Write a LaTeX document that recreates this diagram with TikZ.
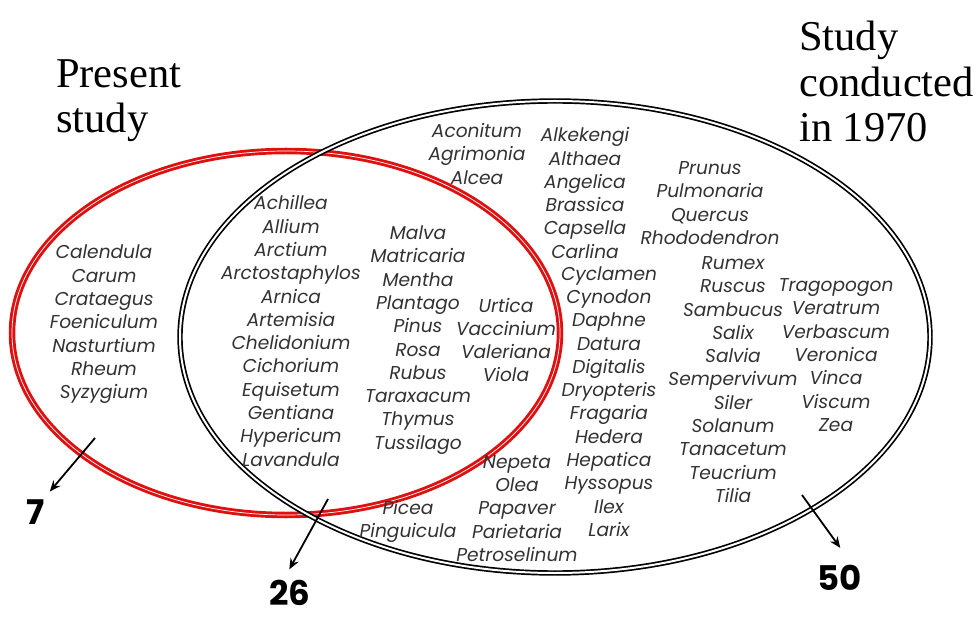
\documentclass[tikz,border=0pt]{standalone}
\usepackage{fontspec}
\setmainfont{Liberation Serif}
\newfontfamily\plantfont{Poppins}
\usetikzlibrary{arrows.meta}
\definecolor{vred}{RGB}{222,16,16}
\definecolor{txt}{RGB}{50,50,50}
\begin{document}
\begin{tikzpicture}[x=1pt,y=-1pt,
  plant/.style={font=\plantfont\itshape\fontsize{18.6}{23.3}\selectfont, text=txt, align=center, inner sep=0pt},
  titletext/.style={font=\fontsize{42.5}{45.5}\selectfont, align=left, anchor=north west, inner sep=0pt},
  num/.style={font=\plantfont\bfseries\fontsize{34}{34}\selectfont, inner sep=1pt},
  arr/.style={-{Stealth[length=11pt,width=9pt]}, line width=1.8pt},
  redring/.style={draw=vred, line width=2.9pt, double=white, double distance=0.7pt},
  blackring/.style={draw=black, line width=1.7pt, double=white, double distance=2pt}]
\useasboundingbox (0,0) rectangle (979,617);
% circles
\draw[redring] (286,333) ellipse [x radius=274pt, y radius=182pt];
\draw[blackring] (555,337) ellipse [x radius=375pt, y radius=236pt];
% titles
\node[titletext] (present) at (56,59) {Present\\study};
\node[titletext] (old) at (799,21) {Study\\conducted\\in 1970};
% plant lists
\node[plant] (blkA) at (104,324.5) {Calendula\\Carum\\Crataegus\\Foeniculum\\Nasturtium\\Rheum\\Syzygium};
\node[plant] (blkB) at (291,331) {Achillea\\Allium\\Arctium\\Arctostaphylos\\Arnica\\Artemisia\\Chelidonium\\Cichorium\\Equisetum\\Gentiana\\Hypericum\\Lavandula};
\node[plant] (blkC) at (418,340) {Malva\\Matricaria\\Mentha\\Plantago\\Pinus\\Rosa\\Rubus\\Taraxacum\\Thymus\\Tussilago};
\node[plant] (blkD) at (506,340) {Urtica\\Vaccinium\\Valeriana\\Viola};
\node[plant] (blkE) at (477,154) {Aconitum\\Agrimonia\\Alcea};
\node[plant] (blkF) at (585,193) {Alkekengi\\Althaea\\Angelica\\Brassica\\Capsella\\Carlina};
\node[plant] (blkG) at (609,401.5) {Cyclamen\\Cynodon\\Daphne\\Datura\\Digitalis\\Dryopteris\\Fragaria\\Hedera\\Hepatica\\Hyssopus\\Ilex\\Larix};
\node[plant] (blkH) at (710,203) {Prunus\\Pulmonaria\\Quercus\\Rhododendron};
\node[plant] (blkI) at (733,379.5) {Rumex\\Ruscus\\Sambucus\\Salix\\Salvia\\Sempervivum\\Siler\\Solanum\\Tanacetum\\Teucrium\\Tilia};
\node[plant] (blkJ) at (836,355) {Tragopogon\\Veratrum\\Verbascum\\Veronica\\Vinca\\Viscum\\Zea};
\node[plant] (blkK) at (517,508.5) {Nepeta\\Olea\\Papaver\\Parietaria\\Petroselinum};
\node[plant] (blkL) at (408,521.5) {Picea\\Pinguicula};
% counts
\node[num] (n7) at (36,512) {7};
\node[num] (n26) at (290,593) {26};
\node[num] (n50) at (840,578) {50};
% arrows
\coordinate (s7) at (95,438);
\coordinate (s26) at (328,499);
\coordinate (s50) at (802,495);
\draw[arr, shorten >=9pt] (s7) -- ([xshift=8pt]n7.north);
\draw[arr, shorten >=11pt] (s26) -- ([xshift=-6pt]n26.north);
\draw[arr, shorten >=20pt] (s50) -- ([xshift=12pt]n50.north);
\end{tikzpicture}
\end{document}
